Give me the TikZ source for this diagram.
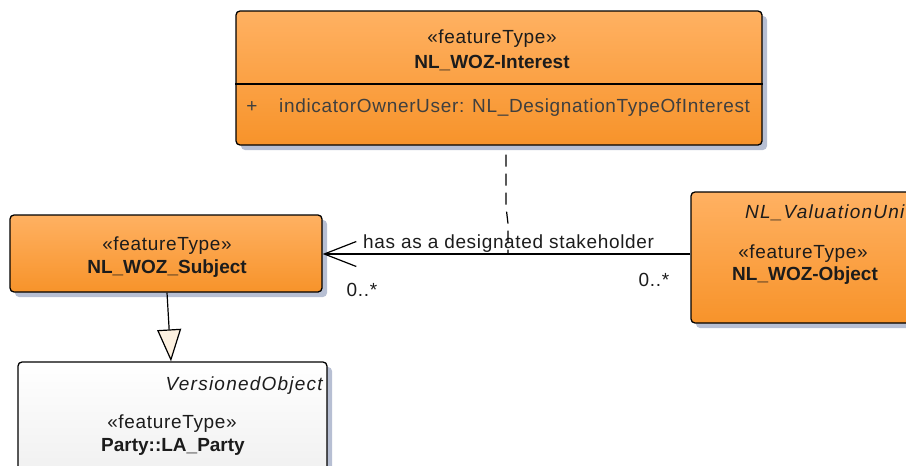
\documentclass[tikz,border=0pt]{standalone}
\usepackage{fontspec}
\setmainfont{Liberation Sans}
\newfontfamily\spfont[LetterSpace=3.5]{Liberation Sans}
\newfontfamily\itfont[LetterSpace=6.5]{Liberation Sans}
\usetikzlibrary{shadows,arrows.meta}
\definecolor{orTop}{HTML}{FFB162}
\definecolor{orBot}{HTML}{F7932A}
\definecolor{shd}{HTML}{B7BFD3}
\definecolor{grBot}{HTML}{EDEDED}
\definecolor{txt}{HTML}{1C1C1C}
\definecolor{attr}{HTML}{3F3F3F}
\definecolor{triFill}{HTML}{FDF1E0}
\begin{document}
\begin{tikzpicture}[x=1pt,y=-1pt,
  boxbase/.style={draw=black, line width=1.3pt, rounded corners=4pt, inner sep=0pt,
    drop shadow={shadow xshift=5pt, shadow yshift=-5pt, fill=shd, opacity=1}},
  orbox/.style={boxbase, top color=orTop, bottom color=orBot},
  whbox/.style={boxbase, top color=white, bottom color=grBot},
  lbl/.style={inner sep=0pt, text height=13.6pt, text depth=0pt, text=txt,
    font=\spfont\fontsize{19}{22}\selectfont},
  bname/.style={lbl, font=\bfseries\fontsize{19}{22}\selectfont},
  iname/.style={lbl, font=\itfont\itshape\fontsize{19}{22}\selectfont},
  conn/.style={line width=1.2pt, draw=black}
]
\useasboundingbox (0,0) rectangle (906,466);
\clip (0,0) rectangle (906,466);

% boxes
\node[orbox, minimum width=526pt, minimum height=134pt] (interest) at (499,78) {};
\node[orbox, minimum width=312pt, minimum height=77pt] (subject) at (166,253.5) {};
\node[orbox, minimum width=269pt, minimum height=131pt] (object) at (825.5,257.5) {};
\node[whbox, minimum width=309pt, minimum height=138pt] (party) at (172.5,431) {};

% separator in interest
\coordinate (sepy) at (0,84);
\draw[line width=1.2pt] (interest.west |- sepy) -- (interest.east |- sepy);

% texts
\node[lbl] (iSt) at (492,36.5) {«featureType»};
\node[bname] (iNm) at (492,61.5) {NL\_WOZ-Interest};
\node[lbl, text=attr] (iPl) at (252,105.5) {+};
\node[lbl, text=attr, anchor=west] (iAt) at (279,105.5) {indicatorOwnerUser: NL\_DesignationTypeOfInterest};

\node[lbl] (sSt) at (167,243.5) {«featureType»};
\node[bname] (sNm) at (167,266.5) {NL\_WOZ\_Subject};

\node[iname, anchor=west] (oTag) at (745,211.5) {NL\_ValuationUnit};
\node[lbl] (oSt) at (803,252) {«featureType»};
\node[bname] (oNm) at (805,274) {NL\_WOZ-Object};

\node[iname, anchor=east] (pTag) at (323,383.5) {VersionedObject};
\node[lbl] (pSt) at (172,421.5) {«featureType»};
\node[bname] (pNm) at (173,445) {Party::LA\_Party};

% association
\coordinate (assoc) at (0,254);
\coordinate (mid) at (508,254);
\draw[conn, -{Straight Barb[length=32pt,width=25pt,line width=1.2pt]}]
  (object.west |- assoc) -- (subject.east |- assoc);
\node[lbl, anchor=west] (aLbl) at (363,241.5) {has as a designated stakeholder};
\node[lbl] (mS) at (362,290) {0..*};
\node[lbl] (mO) at (654,280) {0..*};

% association class dashed link
\draw[conn, dash pattern=on 12pt off 7pt]
  ([xshift=7pt,yshift=-9pt]interest.south) -- ++(0,52) -- ++(2,17) -- (mid);

% generalization
\draw[conn, -{Triangle[length=32pt,width=24pt,fill=triFill]}]
  ([xshift=1pt]subject.south) -- ([xshift=-1.5pt]party.north);
\end{tikzpicture}
\end{document}
